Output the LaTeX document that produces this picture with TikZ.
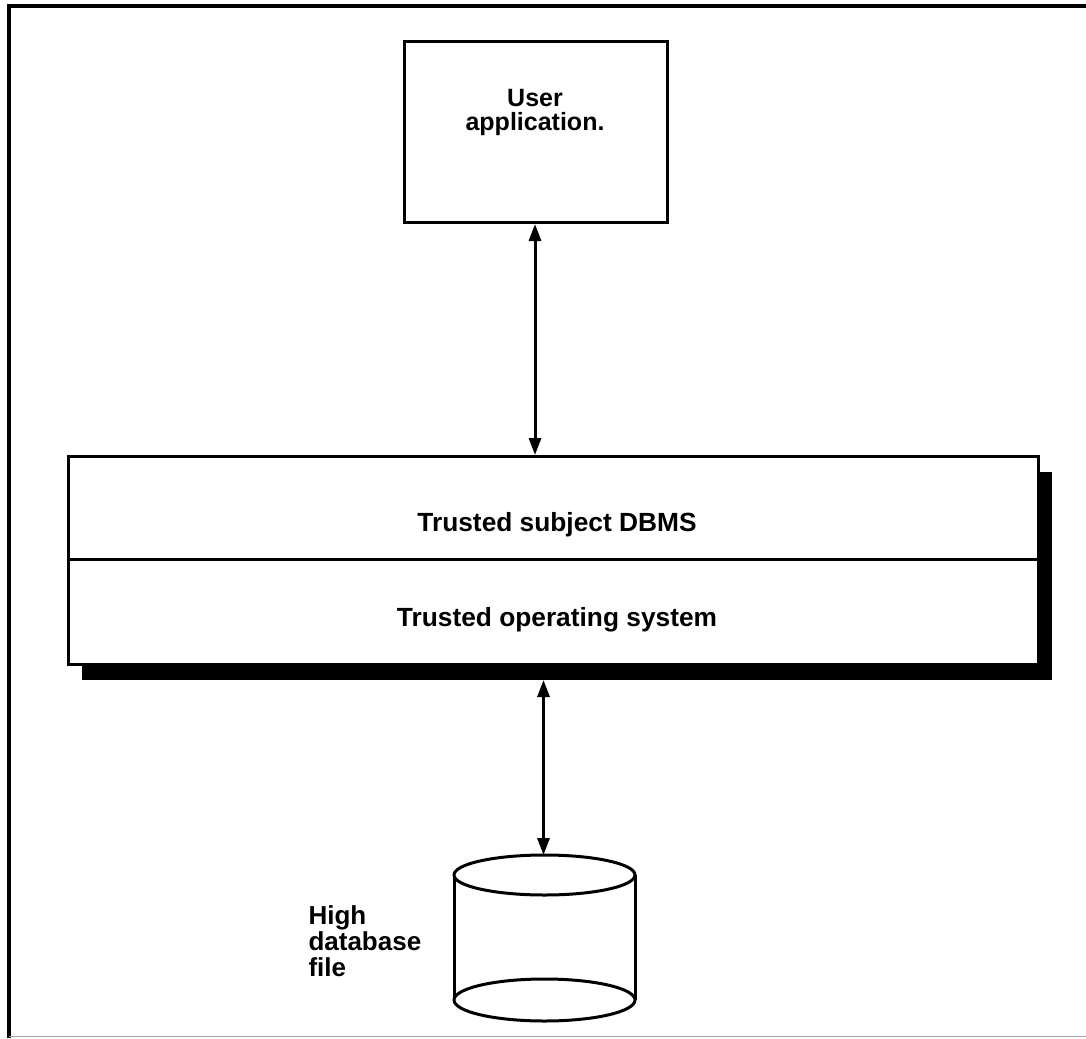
\documentclass[tikz,border=0pt]{standalone}
\usepackage{fontspec}
\setmainfont{Liberation Sans}
\usetikzlibrary{arrows.meta,calc}
\begin{document}
\begin{tikzpicture}[x=1pt,y=-1pt,
  lbl/.style={font=\bfseries\fontsize{25}{24}\selectfont, align=center},
  wide/.style={font=\bfseries\fontsize{26.3}{26}\selectfont},
  side/.style={font=\bfseries\fontsize{26}{26}\selectfont, align=left},
  boxline/.style={draw=black, line width=3pt},
  link/.style={line width=3pt, {Triangle[length=17pt,width=12pt]}-{Triangle[length=17pt,width=12pt]}}
]
\useasboundingbox (0,0) rectangle (1086,1038);

% outer frame: heavy top and left rules, faint bottom rule
\draw[line width=4pt] (9,1038) -- (9,6) -- (1086,6);
\draw[black!35, line width=1.5pt] (9,1036.5) -- (1086,1036.5);

% user application
\node[boxline, fill=white, minimum width=263, minimum height=181, inner sep=0pt,
      anchor=north west] (app) at (403,40) {};
\node[lbl] (applbl) at (535,112) {User\\application.};

% shadow behind the trusted layers
\fill[black] (82,472) rectangle (1052,680);

% trusted layers
\node[boxline, fill=white, minimum width=970, minimum height=103, inner sep=0pt,
      anchor=north west] (dbms) at (67,455) {};
\node[boxline, fill=white, minimum width=970, minimum height=105, inner sep=0pt,
      anchor=north west] (tos) at (67,558) {};
\node[wide] (dbmslbl) at (557,525) {Trusted subject DBMS};
\node[wide] (toslbl) at (557,620) {Trusted operating system};

% database cylinder
\coordinate (cyl) at (544.5,875);
\coordinate (cylbot) at (544.5,1000);
\fill[white] ($(cyl)+(-90.5,0)$) rectangle ($(cylbot)+(90.5,0)$);
\draw[line width=3pt] ($(cyl)+(-90.5,0)$) -- ($(cylbot)+(-90.5,0)$);
\draw[line width=3pt] ($(cyl)+(90.5,0)$) -- ($(cylbot)+(90.5,0)$);
\draw[line width=3pt, fill=white] (cylbot) ellipse [x radius=90.5, y radius=21];
\draw[line width=3pt, fill=white] (cyl) ellipse [x radius=90.5, y radius=20];
\coordinate (cyltop) at (544.5,855);
\node[side, anchor=west] (dblbl) at (305,941) {High\\database\\file};

% connectors
\coordinate (shadowbot) at (543.5,680);
\draw[link] (app.south -| 535,0) -- (dbms.north -| 535,0);
\draw[link] (shadowbot) -- (shadowbot |- cyltop);
\end{tikzpicture}
\end{document}
